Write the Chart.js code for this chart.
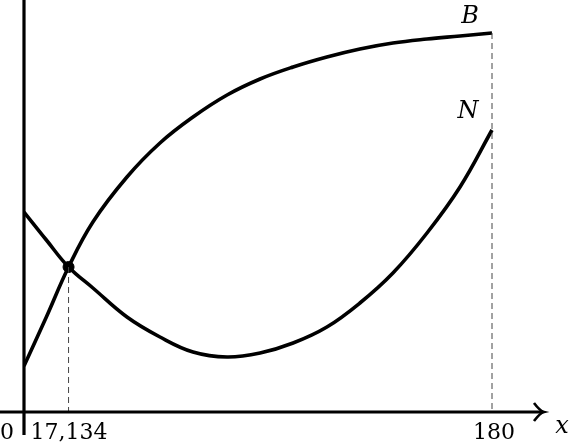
<!DOCTYPE html>
<html>
<head>
<meta charset="utf-8">
<script src="https://cdn.jsdelivr.net/npm/chart.js@4"></script>
<style>
  html, body { margin: 0; padding: 0; background: #fff; }
  #wrap { width: 571px; height: 447px; }
</style>
</head>
<body>
<div id="wrap"><canvas id="myCanvas" width="571" height="447"></canvas></div>
<script>
// values (y has no units, x axis = 0)
var xs = [0, 8.6, 17.134, 26.5, 39.6, 52.3, 65, 78.1, 90.8, 103.5, 116.5, 129.2, 141.9, 155, 167.7, 180];
var bValues = [46, 95, 145, 190, 235, 269, 295, 317, 333, 345, 355, 363, 369, 373, 376, 379];
var nValues = [200, 172, 145, 124, 95, 75, 60, 55, 59, 69, 85, 109, 139, 179, 225, 282];
var crossing = { x: 17.134, y: 145 };
var tickValues = [0, 17.134, 180];
var tickLabels = ['0', '17,134', '180'];
var xMax = 200, yMax = 412;

function pts(ys) {
    return xs.map(function (x, i) { return { x: x, y: ys[i] } });
}

var serif = '"DejaVu Serif", "Liberation Serif", serif';

var axesPlugin = {
    id: 'axes',
    afterDatasetsDraw: function (chart) {
        var ctx = chart.ctx;
        var sx = chart.scales.x, sy = chart.scales.y;
        var x0 = sx.getPixelForValue(0), y0 = sy.getPixelForValue(0);
        var xEnd = sx.getPixelForValue(xMax);

        ctx.save();
        // dashed guides
        ctx.strokeStyle = '#444';
        ctx.lineWidth = 1;
        ctx.setLineDash([6, 4]);
        var endX = sx.getPixelForValue(180);
        ctx.beginPath();
        ctx.moveTo(endX, sy.getPixelForValue(bValues[bValues.length - 1]));
        ctx.lineTo(endX, y0);
        var cx = sx.getPixelForValue(crossing.x);
        ctx.moveTo(cx, sy.getPixelForValue(crossing.y));
        ctx.lineTo(cx, y0);
        ctx.stroke();
        ctx.setLineDash([]);

        // axes
        ctx.strokeStyle = '#000';
        ctx.lineWidth = 3.2;
        ctx.beginPath();
        ctx.moveTo(x0, 0);
        ctx.lineTo(x0, y0 + 23);
        ctx.moveTo(0, y0);
        ctx.lineTo(xEnd - 1, y0);
        ctx.stroke();

        // arrow head
        ctx.lineWidth = 2.6;
        ctx.beginPath();
        ctx.moveTo(xEnd - 10, y0 - 9);
        ctx.quadraticCurveTo(xEnd - 4, y0 - 1, xEnd, y0);
        ctx.quadraticCurveTo(xEnd - 4, y0 + 1, xEnd - 10, y0 + 9);
        ctx.stroke();

        // tick labels
        ctx.fillStyle = '#000';
        ctx.font = '22px ' + serif;
        ctx.textBaseline = 'alphabetic';
        ctx.textAlign = 'center';
        tickValues.forEach(function (v, i) {
            var px = sx.getPixelForValue(v);
            if (v === 0) px = 7;
            if (v === 17.134) px = 69;
            ctx.fillText(tickLabels[i], px + (v === 180 ? 2 : 0), y0 + 27);
        });

        // axis and curve names
        ctx.font = 'italic 24px ' + serif;
        ctx.fillText('x', 562, y0 + 21);
        ctx.fillText('B', 470, 23);
        ctx.fillText('N', 468, 118);
        ctx.restore();
    }
};

var myChart = new Chart(document.getElementById('myCanvas').getContext('2d'), {
    type: 'line',
    data: {
        datasets: [{
            label: 'B',
            data: pts(bValues),
            borderColor: '#000',
            borderWidth: 3.6,
            pointRadius: 0,
            tension: 0.4
        }, {
            label: 'N',
            data: pts(nValues),
            borderColor: '#000',
            borderWidth: 3.6,
            pointRadius: 0,
            tension: 0.4
        }, {
            type: 'scatter',
            label: 'crossing',
            data: [crossing],
            backgroundColor: '#000',
            borderColor: '#000',
            pointRadius: 5.5
        }]
    },
    options: {
        responsive: false,
        animation: false,
        events: [],
        layout: { autoPadding: false, padding: { left: 24, right: 27, top: 0, bottom: 35 } },
        plugins: { legend: { display: false }, tooltip: { enabled: false } },
        scales: {
            x: { type: 'linear', min: 0, max: xMax, display: false },
            y: { type: 'linear', min: 0, max: yMax, display: false }
        }
    },
    plugins: [axesPlugin]
});
</script>
</body>
</html>
